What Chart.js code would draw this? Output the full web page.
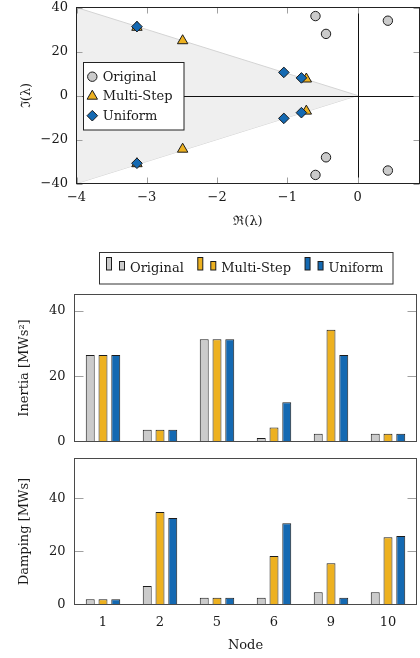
<!DOCTYPE html>
<html>
<head>
<meta charset="utf-8">
<script src="https://cdn.jsdelivr.net/npm/chart.js@4.4.1/dist/chart.umd.min.js"></script>
<style>
  html, body { margin: 0; padding: 0; background: #fff; }
  #wrap { position: relative; width: 420px; height: 658px; overflow: hidden; }
  canvas { position: absolute; left: 0; }
</style>
</head>
<body>
<div id="wrap">
  <canvas id="eigChart" width="420" height="235" style="top:0"></canvas>
  <canvas id="inertiaChart" width="420" height="210" style="top:240px"></canvas>
  <canvas id="dampingChart" width="420" height="208" style="top:450px"></canvas>
</div>
<script>
// eigenvalues (real / imaginary parts)
const origRe = [-0.6, -0.45, 0.43, -0.6, -0.45, 0.43];
const origIm = [36.1, 28.0, 34.0, -36.1, -28.1, -34.1];
const multiRe = [-3.14, -2.49, -0.73, -3.14, -2.49, -0.73];
const multiIm = [31.0, 24.9, 7.5, -31.0, -24.4, -7.1];
const unifRe = [-3.14, -1.05, -0.8, -3.14, -1.05, -0.8];
const unifIm = [31.3, 10.5, 8.0, -30.8, -10.4, -7.8];
// damping cone
const coneRe = [-4, 0];
const coneUpper = [40, 0];
const coneLower = [-40, 0];
const reTicks = [-4, -3, -2, -1, 0];
const imTicks = [-40, -20, 0, 20, 40];

// bar charts
const nodes = ['1', '2', '5', '6', '9', '10'];
const inertiaOrig = [26.5, 3.6, 31.3, 1.1, 2.4, 2.4];
const inertiaMulti = [26.5, 3.6, 31.3, 4.3, 34.2, 2.4];
const inertiaUnif = [26.5, 3.6, 31.3, 12.0, 26.5, 2.4];
const dampOrig = [2.0, 7.0, 2.5, 2.5, 4.6, 4.6];
const dampMulti = [2.0, 34.8, 2.5, 18.3, 15.5, 25.3];
const dampUnif = [2.0, 32.6, 2.5, 30.6, 2.5, 25.8];
const barTicks = [0, 20, 40];

const GRAY = '#cbcbcb';
const YELLOW = '#edb120';
const BLUE = '#1469b2';
const EDGE = '#1c1c1c';
const FONT = "'DejaVu Serif', 'Liberation Serif', serif";

Chart.defaults.font.family = FONT;
Chart.defaults.font.size = 13;
Chart.defaults.color = '#1a1a1a';

const fmtTick = (v) => (v < 0 ? '\u2212' + Math.abs(v) : String(v));
const pts = (xs, ys) => xs.map((x, i) => ({ x, y: ys[i] }));
const fixTicks = (list) => (s) => { s.ticks = list.map((v) => ({ value: v })); };
// pin an axis to a size and drop the label-overflow padding Chart.js adds
const pinWidth = (w) => (s) => { s.width = w; s.paddingTop = 0; s.paddingBottom = 0; };
const pinHeight = (h) => (s) => { s.height = h; s.paddingLeft = 0; s.paddingRight = 0; };

// box round the plot area with short inward ticks on every side
function framePlugin(xTicks, yTicks, len, boxColor) {
  return {
    id: 'frame',
    afterDatasetsDraw(chart) {
      const { ctx, chartArea: a, scales } = chart;
      ctx.save();
      ctx.lineWidth = 1;
      ctx.strokeStyle = '#a0a0a0';
      ctx.beginPath();
      for (const v of xTicks) {
        const px = Math.round(scales.x.getPixelForValue(v)) + 0.5;
        ctx.moveTo(px, a.top); ctx.lineTo(px, a.top + len);
        ctx.moveTo(px, a.bottom); ctx.lineTo(px, a.bottom - len);
      }
      for (const v of yTicks) {
        const py = Math.round(scales.y.getPixelForValue(v)) + 0.5;
        ctx.moveTo(a.left, py); ctx.lineTo(a.left + len, py);
        ctx.moveTo(a.right, py); ctx.lineTo(a.right - len, py);
      }
      ctx.stroke();
      ctx.strokeStyle = boxColor;
      ctx.strokeRect(a.left, a.top, a.right - a.left, a.bottom - a.top);
      ctx.restore();
    },
  };
}

const zeroLines = {
  id: 'zeroLines',
  afterDatasetsDraw(chart) {
    const { ctx, chartArea: a, scales } = chart;
    const px = Math.round(scales.x.getPixelForValue(0)) + 0.5;
    const py = Math.round(scales.y.getPixelForValue(0)) + 0.5;
    ctx.save();
    ctx.strokeStyle = '#111';
    ctx.lineWidth = 1;
    ctx.beginPath();
    ctx.moveTo(px, a.top); ctx.lineTo(px, a.bottom);
    ctx.moveTo(a.left, py); ctx.lineTo(a.right, py);
    ctx.stroke();
    ctx.restore();
  },
};

const eigLegend = {
  id: 'eigLegend',
  afterDraw(chart) {
    const { ctx } = chart;
    const items = chart.data.datasets.filter((d) => d.legend);
    ctx.save();
    ctx.fillStyle = '#fff';
    ctx.strokeStyle = '#222';
    ctx.lineWidth = 1;
    ctx.fillRect(83.5, 62.5, 100.5, 67.5);
    ctx.strokeRect(83.5, 62.5, 100.5, 67.5);
    ctx.font = '13px ' + FONT;
    ctx.textBaseline = 'middle';
    items.forEach((d, i) => {
      const y = 76.7 + i * 19.5;
      ctx.fillStyle = d.backgroundColor;
      ctx.strokeStyle = d.borderColor;
      ctx.lineWidth = d.borderWidth;
      Chart.helpers.drawPoint(ctx, { pointStyle: d.pointStyle, radius: d.pointRadius, borderWidth: d.borderWidth, rotation: 0 }, 92.3, y);
      ctx.fillStyle = '#1a1a1a';
      ctx.fillText(d.label, 102.7, y + 0.5);
    });
    ctx.restore();
  },
};

const barLegend = {
  id: 'barLegend',
  afterDraw(chart) {
    const { ctx } = chart;
    ctx.save();
    ctx.fillStyle = '#fff';
    ctx.strokeStyle = '#333';
    ctx.lineWidth = 1;
    ctx.fillRect(99.5, 12.5, 293.5, 31.5);
    ctx.strokeRect(99.5, 12.5, 293.5, 31.5);
    ctx.font = '13px ' + FONT;
    ctx.textBaseline = 'middle';
    let x = 106;
    for (const d of chart.data.datasets) {
      ctx.fillStyle = d.backgroundColor;
      ctx.strokeStyle = EDGE;
      ctx.fillRect(x + 0.5, 17.5, 5, 12.5);
      ctx.strokeRect(x + 0.5, 17.5, 5, 12.5);
      ctx.fillRect(x + 13.5, 21.5, 5, 8.5);
      ctx.strokeRect(x + 13.5, 21.5, 5, 8.5);
      ctx.fillStyle = '#1a1a1a';
      ctx.fillText(d.label, x + 24, 29);
      x += 24 + ctx.measureText(d.label).width + 13.5;
    }
    ctx.restore();
  },
};

new Chart(document.getElementById('eigChart'), {
  type: 'scatter',
  data: {
    datasets: [
      { label: 'Original', legend: true, data: pts(origRe, origIm), order: 2, pointStyle: 'circle', pointRadius: 4.7,
        backgroundColor: GRAY, borderColor: EDGE, borderWidth: 1 },
      { label: 'Multi-Step', legend: true, data: pts(multiRe, multiIm), order: 1, pointStyle: 'triangle', pointRadius: 6,
        backgroundColor: YELLOW, borderColor: EDGE, borderWidth: 1 },
      { label: 'Uniform', legend: true, data: pts(unifRe, unifIm), order: 0, pointStyle: 'rectRot', pointRadius: 5.3,
        backgroundColor: BLUE, borderColor: EDGE, borderWidth: 1 },
      { label: 'cone', data: pts(coneRe, coneUpper), order: 10, showLine: true, pointRadius: 0, fill: '+1',
        backgroundColor: '#efefef', borderColor: '#d4d4d4', borderWidth: 1 },
      { label: 'cone2', data: pts(coneRe, coneLower), order: 11, showLine: true, pointRadius: 0, fill: false,
        borderColor: '#d4d4d4', borderWidth: 1 },
    ],
  },
  options: {
    responsive: false,
    animation: false,
    events: [],
    layout: { autoPadding: false, padding: { top: 7.5, right: 0.5, left: 0, bottom: 0 } },
    plugins: { legend: { display: false }, tooltip: { enabled: false } },
    scales: {
      x: {
        type: 'linear', min: -4, max: 0.88,
        afterBuildTicks: fixTicks(reTicks),
        afterFit: pinHeight(51.5),
        grid: { display: false, drawTicks: false },
        border: { display: false },
        ticks: { padding: 6.5, callback: fmtTick, maxRotation: 0 },
        title: { display: true, text: '\u211C(\u03BB)', padding: { top: 0, bottom: 6 } },
      },
      y: {
        type: 'linear', min: -40, max: 40,
        afterBuildTicks: fixTicks(imTicks),
        afterFit: pinWidth(76.5),
        grid: { display: false, drawTicks: false },
        border: { display: false },
        ticks: { padding: 8.5, callback: fmtTick },
        title: { display: true, text: '\u2111(\u03BB)', padding: { top: 19, bottom: 0 } },
      },
    },
  },
  plugins: [zeroLines, framePlugin(reTicks, imTicks, 6, '#222'), eigLegend],
});

function barChart(id, orig, multi, unif, opts) {
  return new Chart(document.getElementById(id), {
    type: 'bar',
    data: {
      labels: nodes,
      datasets: [
        { label: 'Original', data: orig, backgroundColor: GRAY },
        { label: 'Multi-Step', data: multi, backgroundColor: YELLOW },
        { label: 'Uniform', data: unif, backgroundColor: BLUE },
      ],
    },
    options: {
      responsive: false,
      animation: false,
      events: [],
      layout: { autoPadding: false, padding: opts.padding },
      datasets: { bar: { categoryPercentage: 0.672, barPercentage: 0.7, borderWidth: 1, borderColor: EDGE } },
      plugins: { legend: { display: false }, tooltip: { enabled: false } },
      scales: {
        x: opts.x,
        y: {
          min: 0, max: opts.max,
          afterBuildTicks: fixTicks(barTicks),
          afterFit: pinWidth(74.5),
          grid: { display: false, drawTicks: false },
          border: { display: false },
          ticks: { padding: 9 },
          title: { display: true, text: opts.yTitle, padding: { top: 17, bottom: 0 } },
        },
      },
    },
    plugins: opts.plugins,
  });
}

barChart('inertiaChart', inertiaOrig, inertiaMulti, inertiaUnif, {
  max: 45,
  yTitle: 'Inertia [MWs\u00B2]',
  padding: { top: 54.5, right: 3.5, bottom: 8.5, left: 0 },
  x: { display: false },
  plugins: [framePlugin([], [20, 40], 9, '#4a4a4a'), barLegend],
});

barChart('dampingChart', dampOrig, dampMulti, dampUnif, {
  max: 55,
  yTitle: 'Damping [MWs]',
  padding: { top: 8.5, right: 3.5, bottom: 0, left: 0 },
  x: {
    afterFit: pinHeight(53.5),
    grid: { display: false, drawTicks: false },
    border: { display: false },
    ticks: { padding: 10 },
    title: { display: true, text: 'Node', padding: { top: 0, bottom: 5 } },
  },
  plugins: [framePlugin([], [20, 40], 9, '#4a4a4a')],
});
</script>
</body>
</html>
